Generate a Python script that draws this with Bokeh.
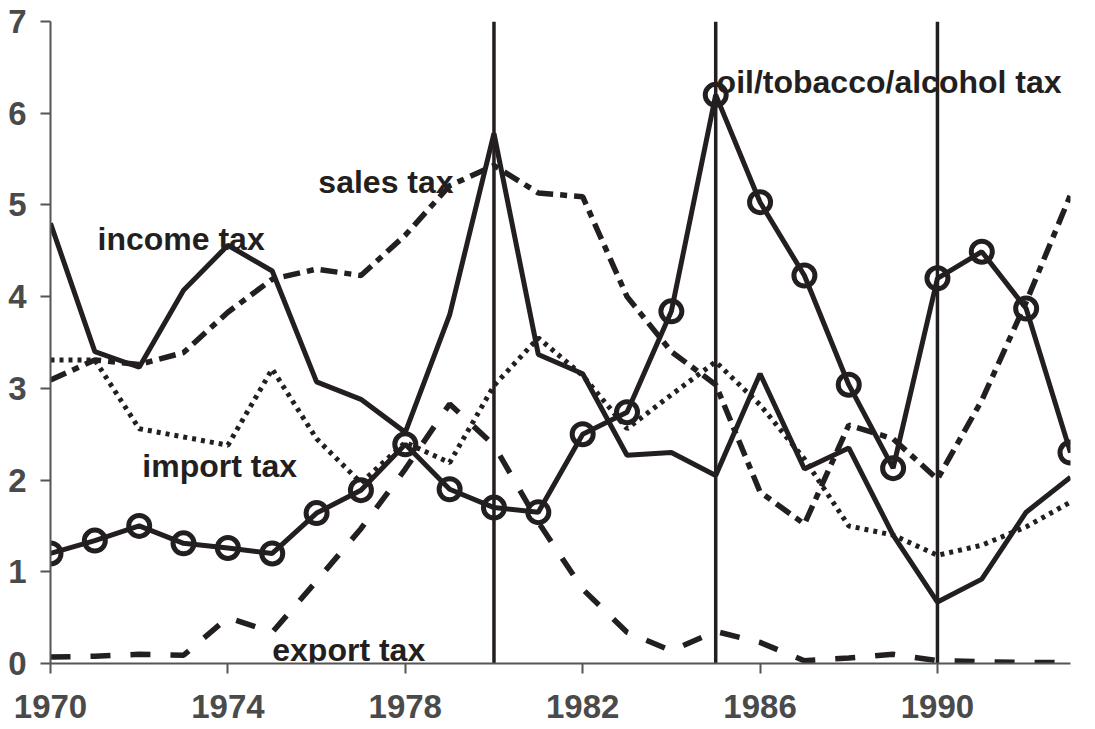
from bokeh.plotting import figure
from bokeh.models import Range1d, FixedTicker
from bokeh.core.properties import value
from bokeh.embed import file_html
from bokeh.resources import INLINE

years = list(range(1970, 1994))

income_tax = [4.80, 3.40, 3.23, 4.07, 4.56, 4.28, 3.07, 2.88, 2.52, 3.80, 5.78, 3.37,
              3.16, 2.27, 2.30, 2.05, 3.16, 2.12, 2.35, 1.40, 0.67, 0.92, 1.65, 2.03]
sales_tax = [3.09, 3.31, 3.26, 3.39, 3.83, 4.19, 4.30, 4.23, 4.67, 5.21, 5.43, 5.13,
             5.09, 4.00, 3.40, 3.04, 1.87, 1.52, 2.60, 2.45, 2.01, 2.87, 3.94, 5.11]
import_tax = [3.31, 3.31, 2.56, 2.47, 2.38, 3.21, 2.45, 1.97, 2.41, 2.19, 3.03, 3.55,
              3.14, 2.56, 2.93, 3.29, 2.82, 2.23, 1.50, 1.40, 1.18, 1.29, 1.49, 1.76]
export_tax = [0.07, 0.08, 0.10, 0.09, 0.50, 0.34, 0.90, 1.47, 2.12, 2.83, 2.38, 1.54,
              0.81, 0.34, 0.14, 0.35, 0.23, 0.03, 0.06, 0.10, 0.03, 0.02, 0.01, 0.01]
oil_tobacco_alcohol_tax = [1.20, 1.34, 1.50, 1.31, 1.26, 1.20, 1.64, 1.89, 2.39, 1.90, 1.70, 1.65,
                           2.50, 2.74, 3.84, 6.20, 5.03, 4.23, 3.04, 2.13, 4.20, 4.49, 3.87, 2.30]

event_years = [1980, 1985, 1990]
x_ticks = [1970, 1974, 1978, 1982, 1986, 1990]
y_ticks = [0, 1, 2, 3, 4, 5, 6, 7]

label_texts = ["income tax", "sales tax", "import tax", "export tax", "oil/tobacco/alcohol tax"]
label_x = [1971.06, 1976.04, 1972.07, 1975.0, 1985.02]
label_y = [4.63, 5.25, 2.15, 0.15, 6.34]

INK = "#231f20"
AXIS = "#555555"

W, H = 1095, 729
p = figure(width=W, height=H, output_backend="svg", toolbar_location=None,
           x_range=Range1d(1970, 1993), y_range=Range1d(0, 7),
           min_border_left=50, min_border_right=W - 1070, min_border_top=21,
           min_border_bottom=H - 663)
p.outline_line_color = None
p.xgrid.visible = False
p.ygrid.visible = False
p.background_fill_color = "white"

for ax, ticks in ((p.xaxis[0], x_ticks), (p.yaxis[0], y_ticks)):
    ax.ticker = FixedTicker(ticks=ticks)
    ax.axis_line_color = AXIS
    ax.axis_line_width = 2
    ax.major_tick_line_color = AXIS
    ax.major_tick_line_width = 2
    ax.major_tick_in = 0
    ax.major_tick_out = 10
    ax.minor_tick_line_color = None
    ax.major_label_text_font = "Liberation Sans"
    ax.major_label_text_font_style = "bold"
    ax.major_label_text_font_size = "33px"
    ax.major_label_text_color = "#4a4a4a"
p.xaxis.major_label_standoff = 21
p.yaxis.major_label_standoff = 14

# vertical event lines
p.segment(x0=event_years, y0=[y_ticks[0]] * len(event_years),
          x1=event_years, y1=[y_ticks[-1]] * len(event_years),
          line_color=INK, line_width=3.5)

p.line(years, export_tax, line_color=INK, line_width=5.5, line_dash="20 20")
p.line(years, import_tax, line_color=INK, line_width=5, line_dash="4 5")
p.line(years, sales_tax, line_color=INK, line_width=5.5, line_dash="17 7 7 7")
p.line(years, income_tax, line_color=INK, line_width=5)
p.line(years, oil_tobacco_alcohol_tax, line_color=INK, line_width=5)
p.scatter(years, oil_tobacco_alcohol_tax, marker="circle", size=21,
          line_color=INK, line_width=5, fill_alpha=0)

p.text(x=label_x, y=label_y, text=label_texts, text_font=value("Liberation Sans"),
       text_font_style="bold", text_font_size="32px", text_color=INK,
       text_baseline="alphabetic", text_align="left")

open("out.html", "w").write(file_html(p, INLINE))
